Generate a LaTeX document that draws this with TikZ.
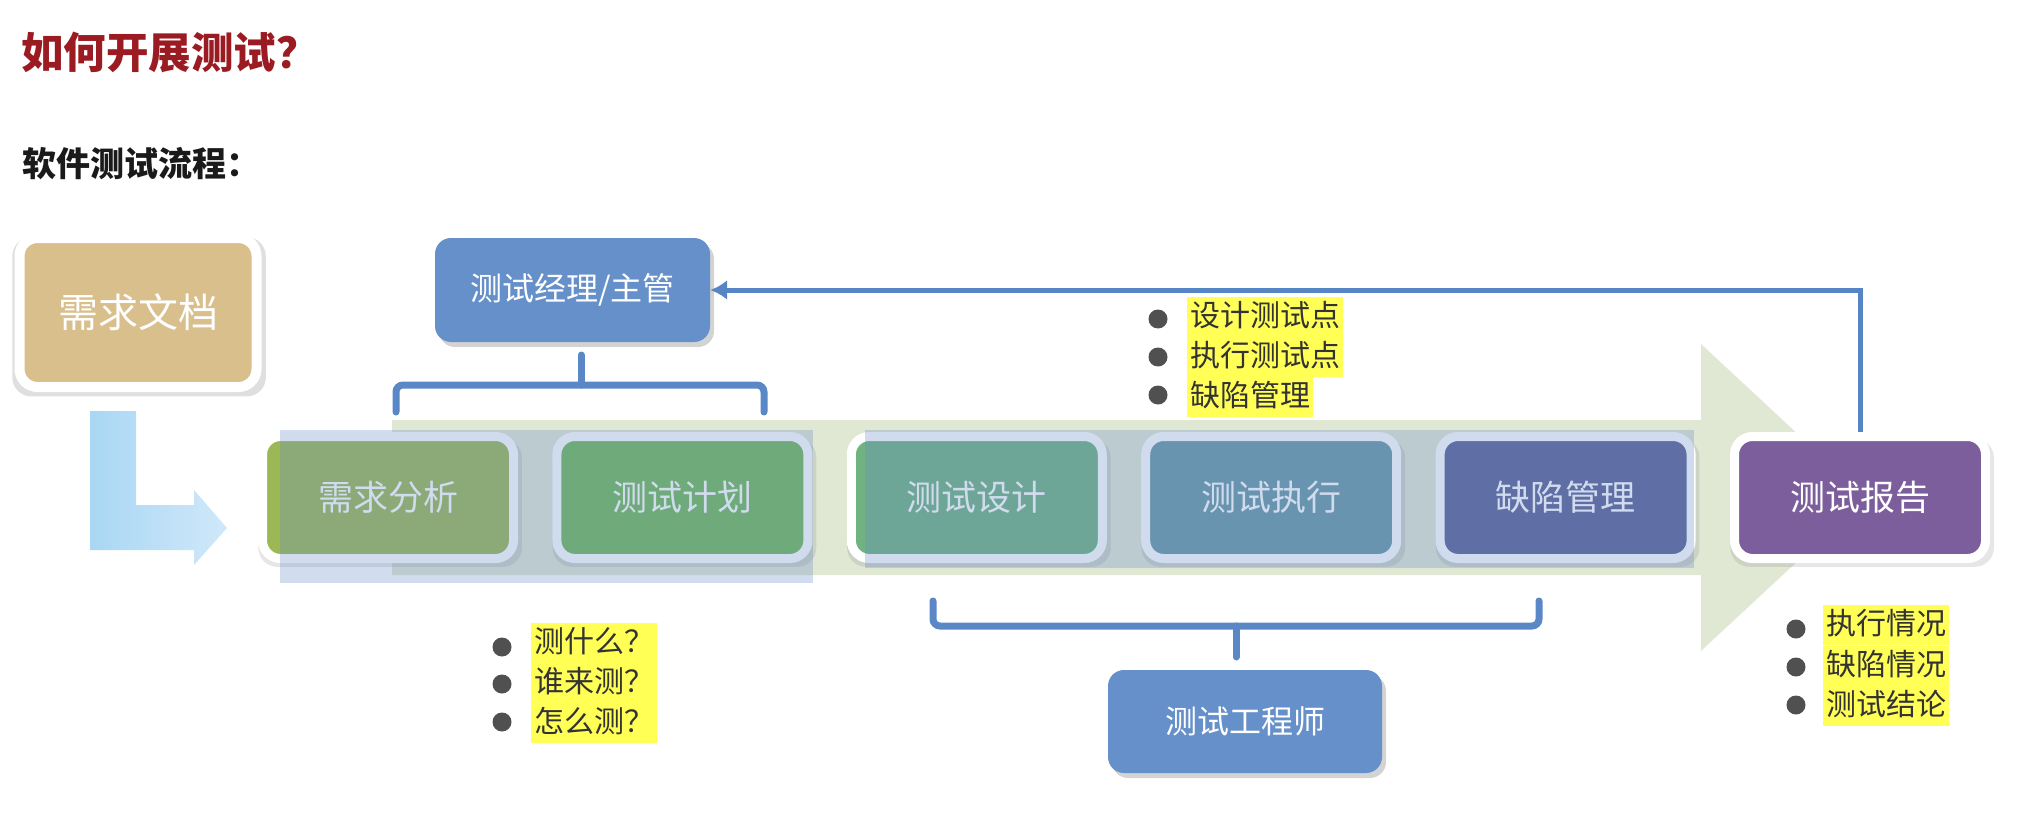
\documentclass[tikz,border=0pt]{standalone}
\usepackage{fontspec}
\setmainfont{Noto Sans CJK SC}
\usetikzlibrary{shadows,arrows.meta,calc}
\definecolor{titlered}{HTML}{9B1B22}
\definecolor{subblack}{HTML}{1A1A1A}
\definecolor{tan}{HTML}{D8BF8C}
\definecolor{rolebl}{HTML}{6690C9}
\definecolor{brkblue}{HTML}{5A87C5}
\definecolor{fbblue}{HTML}{5585C4}
\definecolor{arrowgreen}{HTML}{E0E8D4}
\definecolor{ovl}{HTML}{698ACA}
\definecolor{hlyellow}{HTML}{FFFF55}
\definecolor{bultext}{HTML}{333333}
\definecolor{dotgrey}{HTML}{505050}
\definecolor{cA}{HTML}{9BB854}
\definecolor{cB}{HTML}{72B958}
\definecolor{cC}{HTML}{70B381}
\definecolor{cD}{HTML}{6899A4}
\definecolor{cE}{HTML}{5B6395}
\definecolor{cF}{HTML}{7B5E9B}
\definecolor{lblueA}{HTML}{A9D7F4}
\definecolor{lblueB}{HTML}{D0E8FA}
\pgfdeclarelayer{bg}
\pgfsetlayers{bg,main}
\begin{document}
\begin{tikzpicture}[x=1pt,y=-1pt,
  rowbox/.style={draw=white, line width=9pt, rounded corners=18pt,
    minimum width=251pt, minimum height=122pt, inner sep=0pt, text=white,
    font=\fontsize{35pt}{40pt}\selectfont,
    drop shadow={shadow xshift=2pt, shadow yshift=-5pt, shadow scale=1.05, opacity=0.2}},
  rolebox/.style={fill=rolebl, rounded corners=16pt, minimum width=275pt,
    minimum height=104pt, inner sep=0pt, text=white,
    font=\fontsize{32pt}{38pt}\selectfont,
    drop shadow={shadow xshift=4pt, shadow yshift=-5pt, opacity=0.35}},
  brk/.style={draw=brkblue, line width=7pt, rounded corners=7pt, line cap=round},
  fb/.style={draw=fbblue, line width=5pt, -{Latex[length=17pt,width=20pt]}},
  hl/.style={fill=hlyellow, inner xsep=3pt, inner ysep=0pt, text height=29pt,
    text depth=11pt, font=\fontsize{30pt}{36pt}\selectfont, text=bultext, anchor=west},
  bdot/.style={fill=dotgrey}
]
\useasboundingbox (0,0) rectangle (2018,824);

% headings
\node[anchor=west, inner sep=0pt, font=\fontsize{42.5pt}{48pt}\selectfont\bfseries, text=titlered] (title) at (21,52) {如何开展测试？};
\node[anchor=west, inner sep=0pt, font=\fontsize{34pt}{40pt}\selectfont\bfseries, text=subblack] (sub) at (22,164) {软件测试流程：};

% requirement document
\node[draw=white, line width=10pt, fill=tan, rounded corners=18pt, minimum width=237pt,
  minimum height=149pt, text=white, font=\fontsize{40pt}{46pt}\selectfont,
  drop shadow={shadow xshift=1pt, shadow yshift=-4pt, shadow scale=1.07, opacity=0.25}] (doc) at (138,312.5) {需求文档};

% role boxes
\node[rolebox] (mgr) at (572.5,290) {测试经理/主管};
\node[rolebox, minimum width=274pt, minimum height=103pt] (eng) at (1245,721.5) {测试工程师};

% process boxes
\node[rowbox, fill=cA] (r1) at (388,497.5) {需求分析};
\node[rowbox, fill=cB] (r2) at (682.4,497.5) {测试计划};
\node[rowbox, fill=cC] (r3) at (976.8,497.5) {测试设计};
\node[rowbox, fill=cD] (r4) at (1271.2,497.5) {测试执行};
\node[rowbox, fill=cE] (r5) at (1565.6,497.5) {缺陷管理};
\node[rowbox, fill=cF] (r6) at (1860,497.5) {测试报告};

% translucent selection overlays
\fill[ovl, opacity=0.3] (280,430) rectangle (813,583);
\fill[ovl, opacity=0.3] (865,430) rectangle (1694,568);

\begin{pgfonlayer}{bg}
  % big flow arrow
  \fill[arrowgreen] (392,420) -- (1701,420) -- (1701,344) -- (1866,497.5)
    -- (1701,651) -- (1701,575) -- (392,575) -- cycle;
  % L arrow from document to analysis
  \shade[left color=lblueA, right color=lblueB] (90,411) -- (136,411) -- (136,505)
    -- (194,505) -- (194,490) -- (227,528) -- (194,565) -- (194,550) -- (90,550) -- cycle;
  % feedback from report to manager
  \draw[fb] (r6.north) |- (mgr.east);
\end{pgfonlayer}

% brackets
\draw[brk] (396,412) |- (764,385) -- (764,412);
\draw[brk] (581,385) -- (581,355);
\draw[brk] (933,601) |- (1539,626) -- (1539,601);
\draw[brk] (1236,626) -- (1236,657);

% bullets: top
\node[hl] (t1) at (1187,317) {设计测试点};
\node[hl] (t2) at (1187,357) {执行测试点};
\node[hl] (t3) at (1187,397) {缺陷管理};
\fill[bdot] (1158,319) circle[radius=9.5pt];
\fill[bdot] (1158,357) circle[radius=9.5pt];
\fill[bdot] (1158,395) circle[radius=9.5pt];

% bullets: bottom left
\node[hl] (b1) at (531,643) {测什么？};
\node[hl] (b2) at (531,683) {谁来测？};
\node[hl] (b3) at (531,723) {怎么测？};
\fill[bdot] (502,647) circle[radius=9.5pt];
\fill[bdot] (502,684) circle[radius=9.5pt];
\fill[bdot] (502,722) circle[radius=9.5pt];

% bullets: bottom right
\node[hl] (c1) at (1823,625) {执行情况};
\node[hl] (c2) at (1823,666) {缺陷情况};
\node[hl] (c3) at (1823,706) {测试结论};
\fill[bdot] (1796,629) circle[radius=9.5pt];
\fill[bdot] (1796,667) circle[radius=9.5pt];
\fill[bdot] (1796,705) circle[radius=9.5pt];
\end{tikzpicture}
\end{document}
